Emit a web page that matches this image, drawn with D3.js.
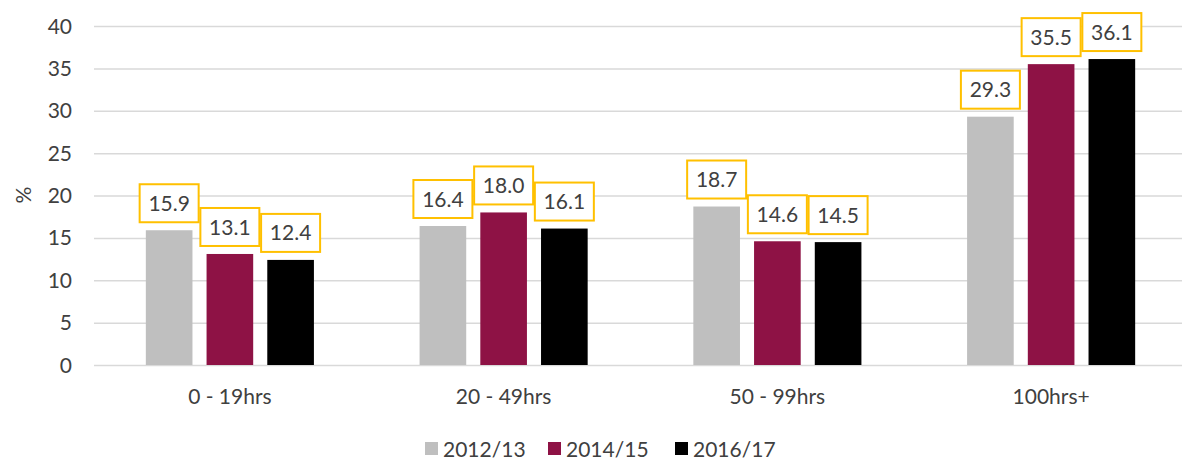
<!DOCTYPE html>
<html>
<head>
<meta charset="utf-8">
<script src="https://cdn.jsdelivr.net/npm/d3@7"></script>
<style>
  body { margin: 0; background: #fff; }
  text { font-family: Lato, "Open Sans", sans-serif; fill: #404040; }
</style>
</head>
<body>
<div id="chart"></div>
<script>
// Data
var categories = ["0 - 19hrs", "20 - 49hrs", "50 - 99hrs", "100hrs+"];
var series = ["2012/13", "2014/15", "2016/17"];
var values2012 = [15.9, 16.4, 18.7, 29.3];
var values2014 = [13.1, 18.0, 14.6, 35.5];
var values2016 = [12.4, 16.1, 14.5, 36.1];
var yTicks = [0, 5, 10, 15, 20, 25, 30, 35, 40];

var seriesValues = [values2012, values2014, values2016];
var colors = ["#bfbfbf", "#8e1245", "#000000"];

var width = 1182, height = 461;
var plot = {left: 93, right: 1188, top: 26, bottom: 365};

var svg = d3.select("#chart").append("svg")
    .attr("width", width)
    .attr("height", height);

var y = d3.scaleLinear().domain([0, 40]).range([plot.bottom, plot.top]);

var x0 = d3.scaleBand()
    .domain(categories)
    .range([plot.left, plot.right])
    .paddingInner(0.386)
    .paddingOuter(0.193);

var x1 = d3.scaleBand()
    .domain(series)
    .range([0, x0.bandwidth()])
    .paddingInner(0.232);

// Gridlines
svg.append("g").selectAll("line")
    .data(yTicks)
  .enter().append("line")
    .attr("x1", 94)
    .attr("x2", width)
    .attr("y1", d => y(d) + 0.5)
    .attr("y2", d => y(d) + 0.5)
    .style("stroke", "#d9d9d9")
    .style("stroke-width", 1.5);

// Y axis labels
svg.append("g").selectAll("text")
    .data(yTicks)
  .enter().append("text")
    .attr("x", 72)
    .attr("y", d => y(d))
    .attr("dy", "0.36em")
    .attr("text-anchor", "end")
    .style("font-size", "21px")
    .text(d => d);

svg.append("text")
    .attr("transform", "translate(23,195) rotate(-90)")
    .attr("text-anchor", "middle")
    .attr("dy", "0.36em")
    .style("font-size", "21px")
    .text("%");

// Flatten into bar records
var bars = [];
categories.forEach(function(c, i) {
    series.forEach(function(s, j) {
        bars.push({cat: c, series: s, value: seriesValues[j][i], color: colors[j]});
    });
});

var bar = svg.append("g").selectAll("g")
    .data(bars)
  .enter().append("g")
    .attr("transform", d => "translate(" + (x0(d.cat) + x1(d.series)) + ",0)");

bar.append("rect")
    .attr("x", 0)
    .attr("y", d => y(d.value))
    .attr("width", x1.bandwidth())
    .attr("height", d => y(0) - y(d.value))
    .style("fill", d => d.color);

var boxW = 59, boxH = 38;
bar.append("rect")
    .attr("x", x1.bandwidth() / 2 - boxW / 2)
    .attr("y", d => y(d.value) - 8 - boxH)
    .attr("width", boxW)
    .attr("height", boxH)
    .style("fill", "#fff")
    .style("stroke", "#ffc000")
    .style("stroke-width", 2);

bar.append("text")
    .attr("x", x1.bandwidth() / 2)
    .attr("y", d => y(d.value) - 8 - boxH / 2)
    .attr("dy", "0.36em")
    .attr("text-anchor", "middle")
    .style("font-size", "21px")
    .text(d => d.value.toFixed(1));

// Category labels
svg.append("g").selectAll("text")
    .data(categories)
  .enter().append("text")
    .attr("x", d => x0(d) + x0.bandwidth() / 2)
    .attr("y", 404)
    .attr("text-anchor", "middle")
    .style("font-size", "21px")
    .text(d => d);

// Legend
var legendX = [425, 548, 675];
var legend = svg.append("g").selectAll("g")
    .data(series)
  .enter().append("g")
    .attr("transform", (d, i) => "translate(" + legendX[i] + ",442)");

legend.append("rect")
    .attr("width", 13)
    .attr("height", 13)
    .style("fill", (d, i) => colors[i]);

legend.append("text")
    .attr("x", 18)
    .attr("y", 15)
    .style("font-size", "21px")
    .text(d => d);
</script>
</body>
</html>
